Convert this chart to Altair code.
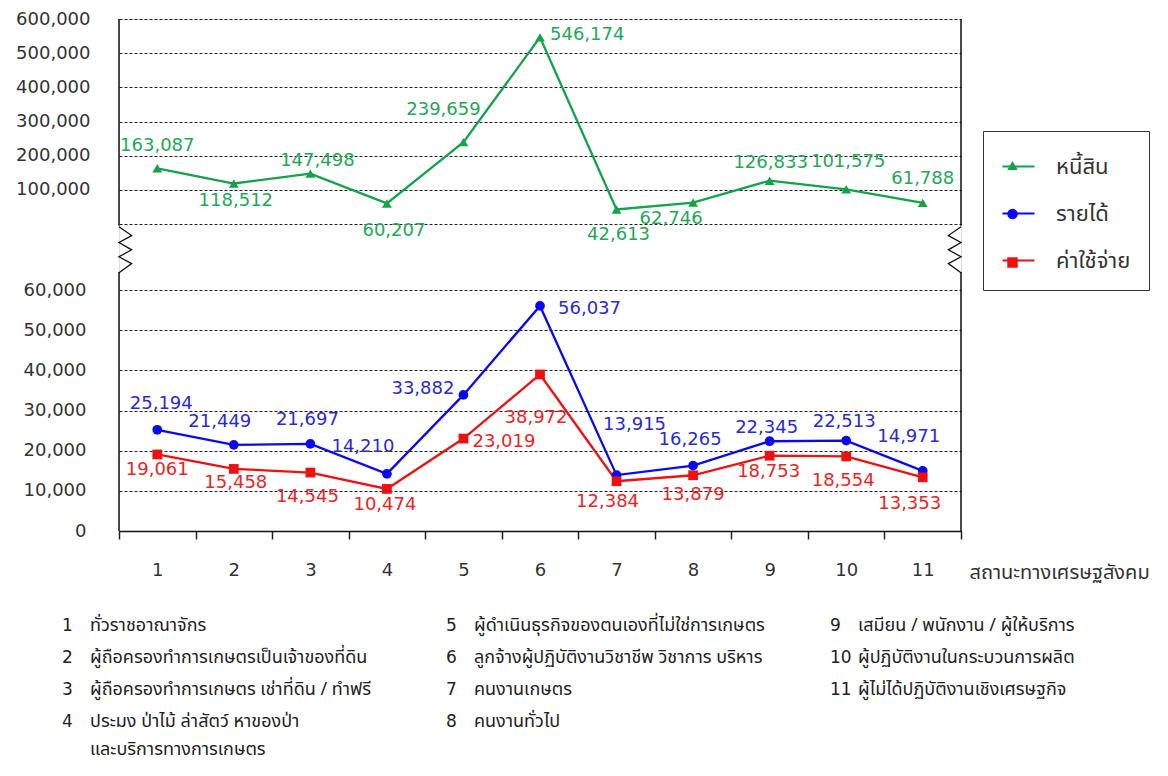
import altair as alt
import pandas as pd

# ---------------- data ----------------
categories = [str(i) for i in range(1, 12)]
debt = [163087, 118512, 147498, 60207, 239659, 546174, 42613, 62746, 126833, 101575, 61788]
income = [25194, 21449, 21697, 14210, 33882, 56037, 13915, 16265, 22345, 22513, 14971]
expense = [19061, 15458, 14545, 10474, 23019, 38972, 12384, 13879, 18753, 18554, 13353]
series_names = ["หนี้สิน", "รายได้", "ค่าใช้จ่าย"]
top_ticks = [0, 100000, 200000, 300000, 400000, 500000, 600000]
bottom_ticks = [0, 10000, 20000, 30000, 40000, 50000, 60000]
x_title = "สถานะทางเศรษฐสังคม"
footnote_labels = [
    "ทั่วราชอาณาจักร",
    "ผู้ถือครองทำการเกษตรเป็นเจ้าของที่ดิน",
    "ผู้ถือครองทำการเกษตร เช่าที่ดิน / ทำฟรี",
    "ประมง ป่าไม้ ล่าสัตว์ หาของป่า\nและบริการทางการเกษตร",
    "ผู้ดำเนินธุรกิจของตนเองที่ไม่ใช่การเกษตร",
    "ลูกจ้างผู้ปฏิบัติงานวิชาชีพ วิชาการ บริหาร",
    "คนงานเกษตร",
    "คนงานทั่วไป",
    "เสมียน / พนักงาน / ผู้ให้บริการ",
    "ผู้ปฏิบัติงานในกระบวนการผลิต",
    "ผู้ไม่ได้ปฏิบัติงานเชิงเศรษฐกิจ",
]
footnote_cols = [0, 0, 0, 0, 1, 1, 1, 1, 2, 2, 2]
footnote_rows = [0, 1, 2, 3, 0, 1, 2, 3, 0, 1, 2]

# ---------------- style: value-label placement (dx, dy, align) ----------------
debt_lbl = [(0, -22, "center"), (2, 17, "center"), (7, -13, "center"), (7, 28, "center"),
            (-20, -32, "center"), (10, -2, "left"), (2, 26, "center"), (-22, 16, "center"),
            (1, -18, "center"), (2, -27, "center"), (0, -24, "center")]
income_lbl = [(4, -26, "center"), (-14, -23, "center"), (-3, -24, "center"), (-24, -27, "center"),
              (-9, -6, "right"), (18, 3, "left"), (18, -50, "center"), (-3, -26, "center"),
              (-3, -13, "center"), (-2, -19, "center"), (-14, -34, "center")]
expense_lbl = [(0, 16, "center"), (2, 14, "center"), (-3, 24, "center"), (-2, 16, "center"),
               (9, 3, "left"), (-4, 44, "center"), (-9, 21, "center"), (0, 20, "center"),
               (-1, 16, "center"), (-3, 25, "center"), (-13, 27, "center")]

GREEN, BLUE, RED = "#14a24a", "#0a0af0", "#ee1111"
GREEN_T, BLUE_T, RED_T = "#1fa856", "#2a2ad2", "#e82525"
colors = [GREEN, BLUE, RED]
NUMFONT = "DejaVu Sans"
THAI = "Tahoma, 'Noto Sans Thai', 'Noto Sans Thai UI', 'Noto Sans', sans-serif"

W, H = 842, 512
# the stroke (line) legend uses its own label set so that it stays a separate legend
line_names = [n + " " for n in series_names]


def frame(vals, idx, lbl):
    return pd.DataFrame({
        "cat": categories,
        "value": vals,
        "series": series_names[idx],
        "series2": line_names[idx],
        "dx": [p[0] for p in lbl],
        "dy": [p[1] for p in lbl],
        "align": [p[2] for p in lbl],
    })


top_df = frame(debt, 0, debt_lbl)
bot_df = pd.concat([frame(income, 1, income_lbl), frame(expense, 2, expense_lbl)],
                   ignore_index=True)

x_axis = alt.Axis(orient="bottom", tickBand="extent", tickSize=8, tickColor="#222", tickWidth=1.5,
                  domainColor="#111", domainWidth=1.5, labelAngle=0, labelFontSize=18,
                  labelFont=NUMFONT, labelColor="#333", labelPadding=22, grid=False,
                  title=x_title, titleFont=THAI, titleFontSize=20, titleFontWeight="normal",
                  titleColor="#333", titleX=850, titleY=41, titleAlign="left",
                  titleBaseline="middle", titleAnchor="start")
x_enc = alt.X("cat:N", sort=categories,
              scale=alt.Scale(type="band", domain=categories, paddingInner=0, paddingOuter=0),
              axis=x_axis)

top_scale = alt.Scale(domain=[0, 600000], range=[205, 0], nice=False, zero=False)
bot_scale = alt.Scale(domain=[0, 60000], range=[512, 271], nice=False, zero=False)

top_axis = alt.Axis(orient="left", values=top_ticks,
                    labelExpr="datum.value == 0 ? '' : format(datum.value, ',')",
                    grid=True, gridDash=[3, 2], gridColor="#222", gridWidth=1,
                    ticks=False, tickSize=0, domain=False, labelFontSize=18, labelFont=NUMFONT,
                    labelColor="#333", labelPadding=29, title=None)
bot_axis = alt.Axis(orient="left", values=bottom_ticks,
                    labelExpr="format(datum.value, ',')",
                    grid=True, gridDash=[3, 2], gridColor="#222", gridWidth=1,
                    ticks=False, tickSize=0, domain=False, labelFontSize=18, labelFont=NUMFONT,
                    labelColor="#333", labelPadding=33, title=None)

stroke_enc = alt.Stroke("series2:N", scale=alt.Scale(domain=line_names, range=colors),
                        legend=alt.Legend(orient="none", legendX=864, legendY=112, title=None,
                                          symbolType="stroke", symbolSize=1024,
                                          symbolStrokeWidth=2.2, labelFontSize=22, labelFont=THAI,
                                          labelColor="#333", padding=18, strokeColor="#333",
                                          rowPadding=18, labelOffset=20, labelLimit=400))
pt_legend = alt.Legend(orient="none", legendX=888, legendY=141, title=None, symbolSize=110,
                       labelExpr="''", labelFontSize=1, padding=0,
                       rowPadding=37.5, labelOffset=0, symbolStrokeWidth=0)
shape_enc = alt.Shape("series:N",
                      scale=alt.Scale(domain=series_names, range=["triangle-up", "circle", "square"]),
                      legend=pt_legend)
fill_enc = alt.Fill("series:N", scale=alt.Scale(domain=series_names, range=colors), legend=pt_legend)

label_text_color = alt.Color("series:N", scale=alt.Scale(domain=series_names,
                                                          range=[GREEN_T, BLUE_T, RED_T]),
                             legend=None)


def group(df, yscale, yaxis):
    base = alt.Chart(df)
    y_enc = alt.Y("value:Q", scale=yscale, axis=yaxis)
    line = base.mark_line(strokeWidth=2.3).encode(x=x_enc, y=y_enc, stroke=stroke_enc,
                                                  detail="series:N")
    pts = base.mark_point(filled=True, opacity=1, strokeWidth=0, size=95).encode(
        x=x_enc, y=y_enc, shape=shape_enc, fill=fill_enc)
    txt = base.mark_text(fontSize=18, font=NUMFONT, baseline="middle",
                         dx=alt.expr("datum.dx"), dy=alt.expr("datum.dy"),
                         align=alt.expr("datum.align")).encode(
        x=x_enc, y=y_enc, text=alt.Text("value:Q", format=","), color=label_text_color)
    return [line, pts, txt]


one = pd.DataFrame({"k": [0]})

# frame borders (left & right) with break
top_borders = [
    alt.Chart(one).mark_rule(color="#111", strokeWidth=1.5).encode(
        x=alt.value(xv), y=alt.Y(datum=600000, scale=top_scale, axis=top_axis),
        y2=alt.Y2(datum=-5000))
    for xv in (0, W)
]
bot_borders = [
    alt.Chart(one).mark_rule(color="#111", strokeWidth=1.5).encode(
        x=alt.value(xv), y=alt.Y(datum=0, scale=bot_scale, axis=bot_axis),
        y2=alt.Y2(datum=64500))
    for xv in (0, W)
]
zig_left = "M0,-1L0.55,-0.62L0,-0.32L0.55,0L0,0.3L0.55,0.6L0,1"
zig_right = "M0,-1L-0.55,-0.62L0,-0.32L-0.55,0L0,0.3L-0.55,0.6L0,1"
zigzags = [
    alt.Chart(one).mark_point(shape=shp, size=2116, filled=False, stroke="#111",
                              strokeWidth=1.3, opacity=1).encode(
        x=alt.value(xv), y=alt.Y(datum=70000, scale=bot_scale, axis=bot_axis))
    for xv, shp in ((0, zig_left), (W, zig_right))
]

top_group = alt.layer(*top_borders, *group(top_df, top_scale, top_axis))
bot_group = alt.layer(*bot_borders, *zigzags, *group(bot_df, bot_scale, bot_axis))
main = alt.layer(top_group, bot_group).resolve_scale(y="independent")

# footnote
fn_df = pd.DataFrame({
    "num": categories,
    "label": footnote_labels,
    "col": footnote_cols,
    "row": footnote_rows,
})
fx = alt.X("col:Q", scale=alt.Scale(domain=[0, 2], range=[-29, 739], nice=False, zero=False),
           axis=None)
fy = alt.Y("row:Q", scale=alt.Scale(domain=[0, 3], range=[607, 703], nice=False, zero=False),
           axis=None)
fn_text = alt.Chart(fn_df).mark_text(align="left", baseline="middle", fontSize=18, font=THAI,
                                     color="#222", lineBreak="\n", lineHeight=28).encode(
    x=fx, y=fy, text="label:N")
fn_num = alt.Chart(fn_df).mark_text(align="left", baseline="middle", fontSize=17, font=NUMFONT,
                                    color="#222", dx=-28).encode(x=fx, y=fy, text="num:N")
foot = alt.layer(fn_text, fn_num)

chart = alt.layer(main, foot).resolve_scale(x="independent", y="independent").properties(
    width=W, height=H,
    padding={"left": 111, "top": 11, "right": 199, "bottom": 237},
    autosize=alt.AutoSizeParams(type="none"),
).configure_view(stroke=None).configure(background="white")

chart.save("out.html", embed_options={"renderer": "svg", "actions": False})
